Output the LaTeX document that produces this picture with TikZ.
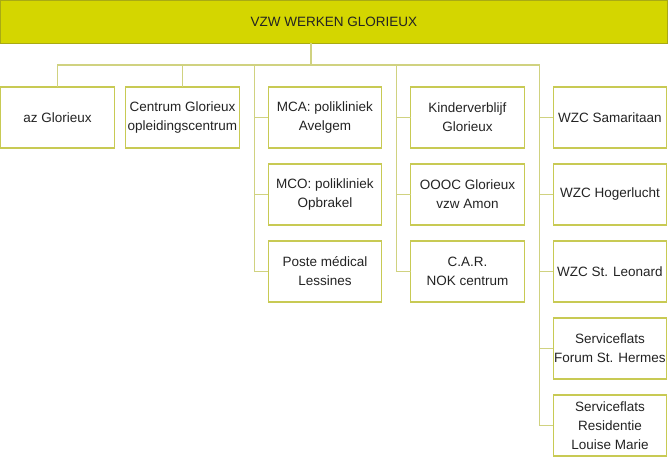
\documentclass[tikz,border=0pt]{standalone}
\usepackage{fontspec}
\setmainfont{Liberation Sans}
\usepackage{tikz}
\usetikzlibrary{positioning, calc}
\definecolor{glorieux-lime}{RGB}{212,214,0}
\definecolor{glorieux-dark}{RGB}{168,170,20}
\definecolor{glorieux-olive}{RGB}{200,202,84}
\definecolor{glorieux-line}{RGB}{208,210,128}
\definecolor{glorieux-text}{RGB}{35,35,35}

\begin{document}
\begin{tikzpicture}[
    node distance=16pt and 29pt,
    block/.style={rectangle, draw=glorieux-olive, line width=1.3pt, minimum width=113.5pt, minimum height=61pt, inner sep=0pt, outer sep=0pt, align=center, text=glorieux-text, font=\fontsize{13.5}{19}\selectfont},
    topbar/.style={block, fill=glorieux-lime, draw=glorieux-dark, minimum width=666.5pt, minimum height=42.5pt},
    link/.style={draw=glorieux-line, line width=1.3pt}
]
\useasboundingbox (0,0) rectangle (668pt,-466pt);

% Koepel
\node[topbar, anchor=north west] (vzw) at (0.7pt,-0.7pt) {VZW WERKEN GLORIEUX};

% Eerste rij
\node[block, anchor=north west] (az) at (0.7pt,-87pt) {az Glorieux};
\node[block, right=11.5pt of az] (centrum) {Centrum Glorieux\\opleidingscentrum};
\node[block, right=of centrum] (mca) {MCA: polikliniek\\Avelgem};
\node[block, right=of mca] (kinder) {Kinderverblijf\\Glorieux};
\node[block, right=of kinder] (samaritaan) {WZC Samaritaan};

% Kolom poliklinieken
\node[block, below=of mca] (mco) {MCO: polikliniek\\Opbrakel};
\node[block, below=of mco] (poste) {Poste médical\\Lessines};

% Kolom jeugd
\node[block, below=of kinder] (oooc) {OOOC Glorieux\\vzw Amon};
\node[block, below=of oooc] (car) {C.A.R.\\NOK centrum};

% Kolom ouderenzorg
\node[block, below=of samaritaan] (hogerlucht) {WZC Hogerlucht};
\node[block, below=of hogerlucht] (leonard) {WZC St. Leonard};
\node[block, below=of leonard] (forum) {Serviceflats\\Forum St. Hermes};
\node[block, below=of forum] (louise) {Serviceflats\\Residentie\\Louise Marie};

% Lijnen
\coordinate (bus) at (311pt,-65pt);
\coordinate (col3) at ($(mca.west)+(-14pt,0)$);
\coordinate (col4) at ($(kinder.west)+(-14pt,0)$);
\coordinate (col5) at ($(samaritaan.west)+(-14pt,0)$);
\draw[link] (vzw.south -| bus) -- (bus);
\draw[link] (az.north) |- (bus -| col5) -- (col5 |- louise.west) -- (louise.west);
\draw[link] (centrum.north) -- (centrum.north |- bus);
\draw[link] (bus -| col3) -- (col3 |- poste.west) -- (poste.west);
\draw[link] (bus -| col4) -- (col4 |- car.west) -- (car.west);
\foreach \unit in {mca, mco}
  \draw[link] (\unit.west) -- (col3 |- \unit.west);
\foreach \unit in {kinder, oooc}
  \draw[link] (\unit.west) -- (col4 |- \unit.west);
\foreach \unit in {samaritaan, hogerlucht, leonard, forum}
  \draw[link] (\unit.west) -- (col5 |- \unit.west);

\end{tikzpicture}
\end{document}
